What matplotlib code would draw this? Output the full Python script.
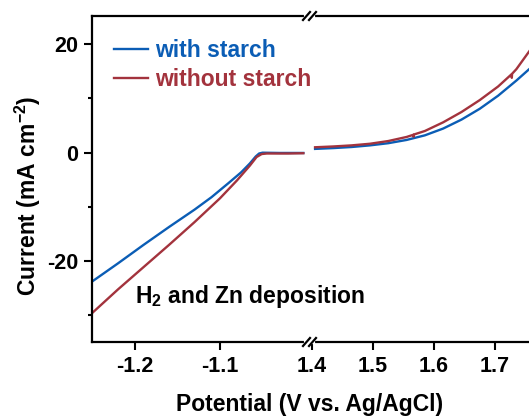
import matplotlib
matplotlib.use("Agg")
from matplotlib import pyplot as plt
from matplotlib.lines import Line2D

# LSV data, cathodic (left) and anodic (right) windows, current in mA cm^-2
v_cat_with = [-1.25, -1.22, -1.19, -1.16, -1.13, -1.11, -1.09, -1.075, -1.065, -1.058, -1.054, -1.05, -1.03, -1.002]
i_cat_with = [-23.7, -20.4, -17.0, -13.7, -10.5, -8.2, -5.6, -3.6, -2.0, -0.7, -0.15, 0.0, -0.05, -0.05]
v_cat_without = [-1.25, -1.22, -1.19, -1.16, -1.13, -1.10, -1.08, -1.065, -1.057, -1.051, -1.045, -1.02, -1.002]
i_cat_without = [-29.5, -25.2, -21.1, -17.0, -12.8, -8.4, -5.1, -2.4, -0.8, -0.25, -0.15, -0.15, -0.1]

v_an_with = [1.405, 1.435, 1.465, 1.495, 1.525, 1.555, 1.585, 1.615, 1.645, 1.675, 1.705, 1.735, 1.76]
i_an_with = [0.7, 0.85, 1.05, 1.35, 1.75, 2.35, 3.2, 4.45, 6.1, 8.1, 10.5, 13.3, 15.8]
v_an_without = [1.405, 1.435, 1.465, 1.495, 1.525, 1.555, 1.566, 1.5665, 1.567, 1.585, 1.615, 1.645,
                1.675, 1.705, 1.727, 1.7275, 1.728, 1.735, 1.76]
i_an_without = [1.0, 1.15, 1.35, 1.65, 2.15, 2.9, 3.3, 2.95, 3.35, 4.0, 5.6, 7.5,
                9.7, 12.2, 14.45, 13.8, 14.55, 15.4, 19.3]

series_labels = ["with starch", "without starch"]
series_colors = ["#0B5DB5", "#A3333D"]

xticks_left = [-1.2, -1.1]
xticks_right = [1.4, 1.5, 1.6, 1.7]
yticks_major = [-20, 0, 20]
yticks_minor = [-30, -10, 10]

plt.rcParams["font.family"] = "Liberation Sans"
plt.rcParams["font.weight"] = "bold"
plt.rcParams["axes.unicode_minus"] = False
plt.rcParams["mathtext.fontset"] = "custom"
plt.rcParams["mathtext.rm"] = "Liberation Sans:bold"
plt.rcParams["mathtext.it"] = "Liberation Sans:bold:italic"
plt.rcParams["mathtext.bf"] = "Liberation Sans:bold"

W, H = 529, 420
fig = plt.figure(figsize=(W / 100, H / 100), dpi=100)

x0, xb, x1 = 92, 308, 529
y_top, y_bot = 16, 342
bottom = 1 - y_bot / H
height = (y_bot - y_top) / H
ax1 = fig.add_axes([x0 / W, bottom, (xb - x0) / W, height])
ax2 = fig.add_axes([xb / W, bottom, (x1 - xb) / W, height], sharey=ax1)

lw = 1.7
ax1.plot(v_cat_with, i_cat_with, color=series_colors[0], lw=lw)
ax1.plot(v_cat_without, i_cat_without, color=series_colors[1], lw=lw)
ax2.plot(v_an_with, i_an_with, color=series_colors[0], lw=lw)
ax2.plot(v_an_without, i_an_without, color=series_colors[1], lw=lw)

ax1.set_xlim(-1.2506, -0.9965)
ax2.set_xlim(1.3934, 1.7557)
ax1.set_ylim(-34.9, 25.2)

for ax in (ax1, ax2):
    for s in ax.spines.values():
        s.set_linewidth(1.6)
    ax.spines["right"].set_visible(False)
    ax.tick_params(axis="x", direction="out", length=6, width=1.5, labelsize=15.5, pad=4)
ax2.spines["left"].set_visible(False)

ax1.set_xticks(xticks_left)
ax1.set_xticklabels(["%.1f" % v for v in xticks_left])
ax2.set_xticks(xticks_right)
ax2.set_xticklabels(["%.1f" % v for v in xticks_right])

ax1.set_yticks(yticks_major)
ax1.set_yticks(yticks_minor, minor=True)
ax1.tick_params(axis="y", which="major", direction="out", length=6, width=1.5, labelsize=15.5, pad=4)
ax1.tick_params(axis="y", which="minor", direction="out", length=3, width=1.5)
ax2.tick_params(axis="y", which="both", left=False, labelleft=False)

# axis break marks on top and bottom spines
for yp in (y_top, y_bot):
    fy = 1 - yp / H
    fig.add_artist(Line2D([306 / W, 313 / W], [fy, fy], color="white", lw=3, transform=fig.transFigure))
    for xc in (306.5, 312.5):
        fig.add_artist(Line2D([(xc - 3.5) / W, (xc + 3.5) / W], [fy - 4 / H, fy + 4 / H],
                              color="black", lw=1.6, transform=fig.transFigure))

handles = [Line2D([], [], color=c, lw=lw) for c in series_colors]
fig.legend(handles, series_labels, loc="upper left", bbox_to_anchor=(114 / W, 1 - 39 / H),
           frameon=False, borderpad=0, borderaxespad=0, handlelength=1.5, handletextpad=0.3,
           labelspacing=0.25, labelcolor=series_colors, prop={"size": 16.5, "weight": "bold"})

fig.text(135 / W, 1 - 297 / H, "H$_2$ and Zn deposition", fontsize=16.5, fontweight="bold",
         va="center", ha="left")

fig.text(310 / W, 1 - 405 / H, "Potential (V vs. Ag/AgCl)", fontsize=16.5, fontweight="bold",
         ha="center", va="center")
fig.text(28 / W, 1 - 196 / H, "Current (mA cm$^{-2}$)", fontsize=16.5, fontweight="bold",
         ha="center", va="center", rotation=90)

fig.savefig("out.png", dpi=100)
